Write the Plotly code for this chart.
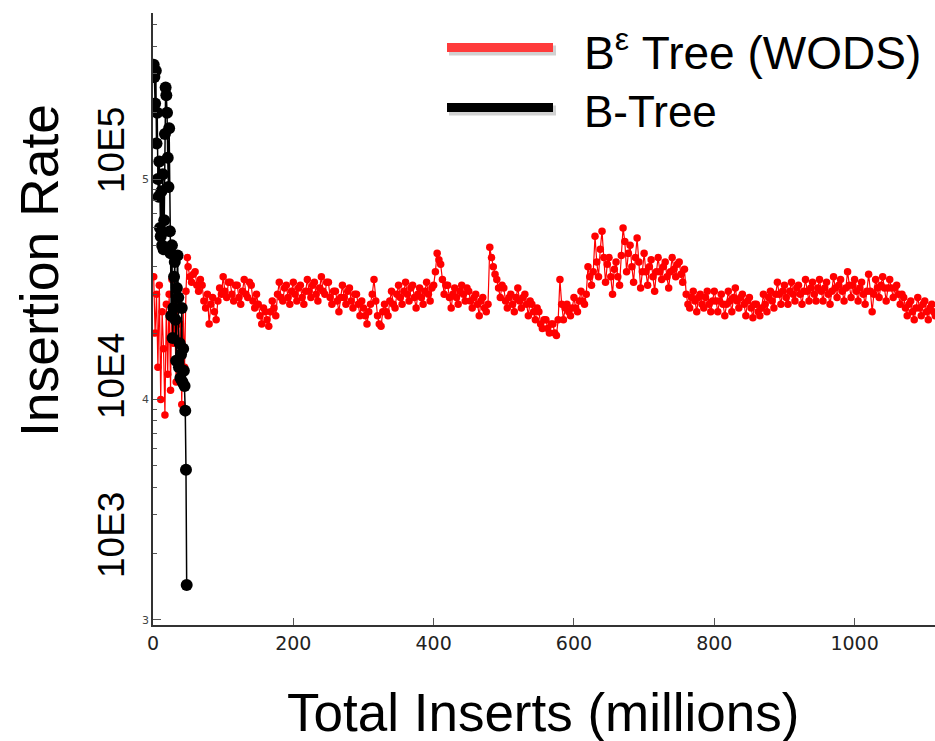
import plotly.graph_objects as go

W, H = 935, 741
ML, MR, MT, MB = 153, 0, 13, 116

# ---------------- data ----------------
# B-Tree (black): total inserts (millions) and insertion rate
bt_x = [1, 2, 3, 4, 5, 6, 7, 8, 9, 10, 11, 12, 13, 14, 15, 16, 17, 18, 19, 20,
        21, 22, 23, 24, 25, 26, 27, 28, 29, 30, 31, 32, 33, 34, 35, 36, 37, 38,
        39, 40, 41, 42, 43, 44, 45, 46, 47, 48]
bt_rate = [330000, 290000, 220000, 310000, 145000, 200000, 100000, 83000, 120000, 60000,
           55000, 88000, 50000, 105000, 48000, 65000, 160000, 260000, 240000, 200000,
           125000, 92000, 170000, 58000, 46000, 24000, 50000, 19000, 26000, 36000,
           42000, 23000, 15000, 32000, 45000, 29000, 14000, 18000, 12500, 16000,
           26000, 12000, 17000, 13500, 11500, 8900, 4800, 1440]

# B^epsilon Tree (WODS) (red): total inserts (millions)
be_x = [1, 3, 5, 7, 9, 11, 13, 15, 17, 19, 21, 23, 25, 27, 29, 31, 33, 35, 37, 39,
        41, 43, 45, 47, 49,
        50, 52.5, 55, 57.5, 60, 62.5, 65, 67.5, 70, 72.5, 75, 77.5, 80, 82.5, 85, 87.5, 90, 92.5, 95, 97.5,
        100, 102.5, 105, 107.5, 110, 112.5, 115, 117.5, 120, 122.5, 125, 127.5, 130, 132.5, 135, 137.5, 140, 142.5, 145, 147.5,
        150, 152.5, 155, 157.5, 160, 162.5, 165, 167.5, 170, 172.5, 175, 177.5, 180, 182.5, 185, 187.5, 190, 192.5, 195, 197.5,
        200, 202.5, 205, 207.5, 210, 212.5, 215, 217.5, 220, 222.5, 225, 227.5, 230, 232.5, 235, 237.5, 240, 242.5, 245, 247.5,
        250, 252.5, 255, 257.5, 260, 262.5, 265, 267.5, 270, 272.5, 275, 277.5, 280, 282.5, 285, 287.5, 290, 292.5, 295, 297.5,
        300, 302.5, 305, 307.5, 310, 312.5, 315, 317.5, 320, 322.5, 325, 327.5, 330, 332.5, 335, 337.5, 340, 342.5, 345, 347.5,
        350, 352.5, 355, 357.5, 360, 362.5, 365, 367.5, 370, 372.5, 375, 377.5, 380, 382.5, 385, 387.5, 390, 392.5, 395, 397.5,
        400, 402.5, 405, 407.5, 410, 412.5, 415, 417.5, 420, 422.5, 425, 427.5, 430, 432.5, 435, 437.5, 440, 442.5, 445, 447.5,
        450, 452.5, 455, 457.5, 460, 462.5, 465, 467.5, 470, 472.5, 475, 477.5, 480, 482.5, 485, 487.5, 490, 492.5, 495, 497.5,
        500, 502.5, 505, 507.5, 510, 512.5, 515, 517.5, 520, 522.5, 525, 527.5, 530, 532.5, 535, 537.5, 540, 542.5, 545, 547.5,
        550, 552.5, 555, 557.5, 560, 562.5, 565, 567.5, 570, 572.5, 575, 577.5, 580, 582.5, 585, 587.5, 590, 592.5, 595, 597.5,
        600, 602.5, 605, 607.5, 610, 612.5, 615, 617.5, 620, 622.5, 625, 627.5, 630, 632.5, 635, 637.5, 640, 642.5, 645, 647.5,
        650, 652.5, 655, 657.5, 660, 662.5, 665, 667.5, 670, 672.5, 675, 677.5, 680, 682.5, 685, 687.5, 690, 692.5, 695, 697.5,
        700, 702.5, 705, 707.5, 710, 712.5, 715, 717.5, 720, 722.5, 725, 727.5, 730, 732.5, 735, 737.5, 740, 742.5, 745, 747.5,
        750, 752.5, 755, 757.5, 760, 762.5, 765, 767.5, 770, 772.5, 775, 777.5, 780, 782.5, 785, 787.5, 790, 792.5, 795, 797.5,
        800, 802.5, 805, 807.5, 810, 812.5, 815, 817.5, 820, 822.5, 825, 827.5, 830, 832.5, 835, 837.5, 840, 842.5, 845, 847.5,
        850, 852.5, 855, 857.5, 860, 862.5, 865, 867.5, 870, 872.5, 875, 877.5, 880, 882.5, 885, 887.5, 890, 892.5, 895, 897.5,
        900, 902.5, 905, 907.5, 910, 912.5, 915, 917.5, 920, 922.5, 925, 927.5, 930, 932.5, 935, 937.5, 940, 942.5, 945, 947.5,
        950, 952.5, 955, 957.5, 960, 962.5, 965, 967.5, 970, 972.5, 975, 977.5, 980, 982.5, 985, 987.5, 990, 992.5, 995, 997.5,
        1000, 1002.5, 1005, 1007.5, 1010, 1012.5, 1015, 1017.5, 1020, 1022.5, 1025, 1027.5, 1030, 1032.5, 1035, 1037.5, 1040, 1042.5, 1045, 1047.5,
        1050, 1052.5, 1055, 1057.5, 1060, 1062.5, 1065, 1067.5, 1070, 1072.5, 1075, 1077.5, 1080, 1082.5, 1085, 1087.5, 1090, 1092.5, 1095, 1097.5,
        1100, 1102.5, 1105, 1107.5, 1110, 1112.5, 1115]
# insertion rate, thousands
be_rate_k = [36, 20, 30, 14, 33, 10, 25, 17, 8.5, 27, 13, 30, 11, 35, 18, 24, 12, 28, 16, 22,
             9.5, 26, 14, 31, 44,
             40, 36, 34, 37, 38, 33, 31, 35, 33, 28, 26, 30, 22, 27, 29, 25, 23, 28, 32, 30,
             36, 31, 29, 34, 34, 30, 28, 33, 33, 29, 27, 31, 35, 30, 29, 34, 33, 28, 26, 30,
             27, 24, 22, 26, 25, 23, 21.5, 25, 28, 26, 24, 30, 34, 29, 28, 32, 33, 29, 27, 31,
             34, 30, 28, 32, 33, 29, 27, 31, 35, 31, 29, 33, 34, 30, 28, 32, 36, 31, 30, 34,
             34, 29, 27, 31, 31, 28, 25, 29, 33, 29, 27, 31, 32, 28, 26, 30, 30, 27, 24, 28,
             26, 24, 22, 25, 27, 30, 35, 28, 24, 22, 21.5, 25, 27, 25, 24, 28, 31, 27, 26, 30,
             33, 29, 27, 31, 34, 30, 28, 32, 33, 29, 26, 30, 32, 29, 27, 31, 34, 30, 28, 32,
             33, 38, 46, 43, 41, 35, 30, 33, 33, 29, 26, 30, 32, 29, 27, 31, 33, 30, 28, 32,
             31, 28, 26, 29, 30, 27, 24, 28, 29, 26, 25, 27, 49, 44, 40, 37, 35, 32, 29, 33,
             32, 28, 26, 29, 30, 27, 25, 29, 32, 28, 26, 29, 30, 27, 24, 28, 27, 25, 23, 26,
             25, 22, 21, 23, 23, 21, 20, 22, 22, 20, 19.5, 23, 35, 27, 23, 26, 27, 25, 24, 26,
             29, 26, 25, 28, 31, 28, 27, 30, 40, 36, 33, 38, 55, 42, 36, 48, 58, 44, 34, 41,
             44, 36, 30, 39, 42, 36, 33, 45, 60, 52, 38, 46, 50, 40, 34, 44, 54, 42, 32, 38,
             46, 38, 33, 40, 43, 36, 31, 38, 44, 38, 35, 40, 42, 36, 32, 38, 44, 39, 36, 41,
             42, 37, 34, 39, 30, 27, 26, 29, 31, 28, 25, 29, 30, 27, 26, 29, 31, 27, 25, 28,
             31, 28, 25, 28, 30, 27, 24, 27, 31, 28, 25, 29, 32, 28, 26, 29, 30, 27, 24, 28,
             29, 26, 23.5, 27, 27, 25, 24, 26, 30, 27, 25, 29, 31, 28, 26, 30, 34, 30, 27, 31,
             33, 29, 27, 31, 34, 30, 28, 32, 33, 30, 27, 31, 35, 31, 28, 32, 34, 30, 28, 32,
             35, 31, 28, 32, 34, 30, 27, 31, 36, 32, 29, 33, 35, 31, 28, 32, 38, 33, 29, 33,
             35, 31, 28, 32, 34, 30, 27, 31, 37, 31, 25, 30, 35, 32, 29, 33, 36, 32, 28, 32,
             35, 32, 29, 32, 33, 30, 27, 30, 29, 26, 24, 27, 28, 25, 23, 26, 29, 26, 24, 27,
             28, 25, 23, 26, 27, 25, 24]

x_tickvals = [0, 200, 400, 600, 800, 1000]
y_tickvals = [1e3, 1e4, 1e5]
y_ticktext = ["3", "4", "5"]
y_minor_vals = [2e3, 3e3, 4e3, 5e3, 6e3, 7e3, 8e3, 9e3,
                2e4, 3e4, 4e4, 5e4, 6e4, 7e4, 8e4, 9e4,
                2e5, 3e5, 4e5, 5e5]
decade_labels = ["10E5", "10E4", "10E3"]
series_names = ["B<sup>ε</sup> Tree (WODS)", "B-Tree"]
x_title = "Total Inserts (millions)"
y_title = "Insertion Rate"

# ---------------- helpers for decoration placement (pixel -> paper) ----------------
PW = W - ML - MR
PH = H - MT - MB


def px(p):
    return (p - ML) / PW


def py(p):
    return (H - MB - p) / PH


be_rate = [v * 1000 for v in be_rate_k]

fig = go.Figure()
fig.add_trace(go.Scatter(
    x=be_x, y=be_rate, mode="lines+markers", name=series_names[0],
    line=dict(color="#ff0000", width=1.2),
    marker=dict(color="#ff0000", size=7.5, line=dict(width=0)),
    showlegend=False,
))
fig.add_trace(go.Scatter(
    x=bt_x, y=bt_rate, mode="lines+markers", name=series_names[1],
    line=dict(color="#000000", width=1.5),
    marker=dict(color="#000000", size=12, line=dict(width=0)),
    showlegend=False,
))

fig.update_layout(
    width=W, height=H,
    margin=dict(l=ML, r=MR, t=MT, b=MB),
    paper_bgcolor="white", plot_bgcolor="white",
    font=dict(family="Liberation Sans, Arial, sans-serif", color="black"),
)
fig.update_xaxes(
    range=[0, 1114.6], showgrid=False, zeroline=False,
    showline=True, linecolor="#333333", linewidth=1.5,
    ticks="inside", ticklen=7, tickcolor="#555555", tickwidth=1,
    tickvals=x_tickvals, ticktext=[str(v) for v in x_tickvals],
    tickfont=dict(family="DejaVu Sans", size=19, color="#222222"),
)
fig.update_yaxes(
    type="log", range=[2.977, 5.753], showgrid=False, zeroline=False,
    showline=True, linecolor="#333333", linewidth=1.5,
    ticks="inside", ticklen=8, tickcolor="#555555", tickwidth=1,
    tickvals=y_tickvals, ticktext=y_ticktext,
    tickfont=dict(family="DejaVu Sans", size=11, color="#444444"),
    minor=dict(ticks="inside", ticklen=4, tickcolor="#555555", tickvals=y_minor_vals),
)

annotations = []
# big decade labels
for txt, cy in zip(decade_labels, [150, 376, 535]):
    annotations.append(dict(
        text=txt, xref="paper", yref="paper", x=px(111), y=py(cy),
        xanchor="center", yanchor="middle", textangle=-90, showarrow=False,
        font=dict(size=37, family="Liberation Sans, Arial", color="black"),
    ))
# axis titles
annotations.append(dict(
    text=y_title, xref="paper", yref="paper", x=px(40), y=py(271),
    xanchor="center", yanchor="middle", textangle=-90, showarrow=False,
    font=dict(size=53.5, family="Liberation Sans, Arial", color="black"),
))
annotations.append(dict(
    text=x_title, xref="paper", yref="paper", x=px(543), y=py(712),
    xanchor="center", yanchor="middle", showarrow=False,
    font=dict(size=53, family="Liberation Sans, Arial", color="black"),
))
# legend texts
for txt, cy, fs in zip(series_names, [50, 112], [46, 44]):
    annotations.append(dict(
        text=txt, xref="paper", yref="paper", x=px(582), y=py(cy),
        xanchor="left", yanchor="middle", showarrow=False,
        font=dict(size=fs, family="Liberation Sans, Arial", color="black"),
    ))

shapes = []
for col, cy in zip(["#ff3b3b", "#000000"], [47.5, 107.5]):
    # soft shadow
    shapes.append(dict(type="line", xref="paper", yref="paper",
                       x0=px(449), x1=px(556), y0=py(cy + 3), y1=py(cy + 3),
                       line=dict(color="rgba(0,0,0,0.18)", width=10)))
    shapes.append(dict(type="line", xref="paper", yref="paper",
                       x0=px(447), x1=px(553), y0=py(cy), y1=py(cy),
                       line=dict(color=col, width=9)))

fig.update_layout(annotations=annotations, shapes=shapes)
fig.write_html("out.html", config={"displayModeBar": False},
               post_script="document.body.style.margin='0';")
